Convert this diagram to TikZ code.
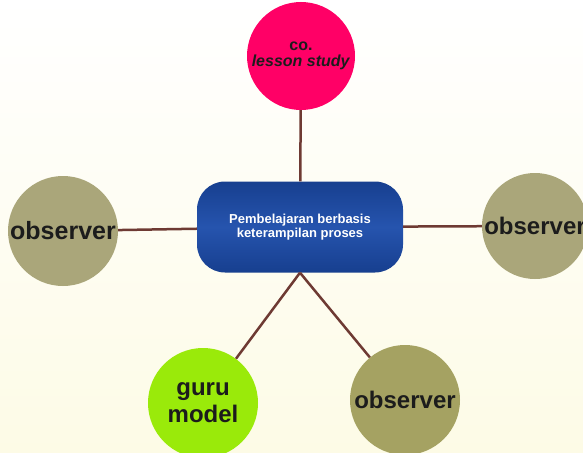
\documentclass[tikz,border=0pt]{standalone}
\usepackage{fontspec}
\setmainfont{Liberation Sans}
\usepackage{tikz}
\definecolor{linkbrown}{HTML}{6E3A33}
\definecolor{coral}{HTML}{FF0066}
\definecolor{khaki}{HTML}{AAA67A}
\definecolor{darkkhaki}{HTML}{A5A262}
\definecolor{lime}{HTML}{9AEA0A}
\definecolor{boxblue}{HTML}{2654AE}
\definecolor{boxdark}{HTML}{173F8F}
\definecolor{cream}{HTML}{FDFBE6}
\definecolor{inkgray}{HTML}{1C1C1C}

\begin{document}
\begin{tikzpicture}[x=1pt,y=-1pt,
    blob/.style={circle,inner sep=0pt,minimum size=110pt,align=center,text=inkgray,font=\bfseries},
    link/.style={draw=linkbrown,line width=2.5pt}]
      \shade [top color=white,bottom color=cream] (0,0) rectangle (583,452);
      \useasboundingbox (0,0) rectangle (583,452);

      \node [blob,fill=coral,minimum size=108pt,font=\bfseries\fontsize{16}{16}\selectfont] (costudy) at (301,56) {co.\\\textit{lesson study}};
      \node [blob,fill=khaki,font=\bfseries\fontsize{25}{25}\selectfont] (obsleft) at (63,231) {observer};
      \node [blob,fill=khaki,minimum size=106pt,font=\bfseries\fontsize{24}{24}\selectfont] (obsright) at (535,226) {observer};
      \node [blob,fill=lime,font=\bfseries\fontsize{24}{27}\selectfont] (guru) at (203,403) {guru\\model};
      \node [blob,fill=darkkhaki,font=\bfseries\fontsize{24}{24}\selectfont] (obsbottom) at (405,400) {observer};

      \node [rectangle,rounded corners=28pt,minimum width=206pt,minimum height=91pt,
        top color=boxdark,bottom color=boxdark,middle color=boxblue,
        text=white,align=center,font=\bfseries\fontsize{13}{14}\selectfont] (pbkp) at (300,227)
        {Pembelajaran berbasis\\keterampilan proses};

      \draw [link] (costudy) -- (pbkp);
      \draw [link] (obsleft) -- (pbkp);
      \draw [link] (pbkp) -- (obsright);
      \draw [link] (pbkp.south) -- (guru);
      \draw [link] (pbkp.south) -- (obsbottom);
    \end{tikzpicture}
\end{document}
